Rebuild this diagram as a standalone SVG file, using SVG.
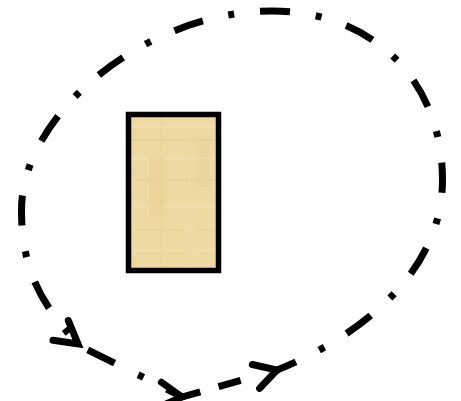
<svg xmlns="http://www.w3.org/2000/svg" xmlns:xlink="http://www.w3.org/1999/xlink" width="461" height="401" viewBox="0 0 461 401">
  <style>
    .loop { fill: none; stroke: #000; stroke-width: 7; stroke-dasharray: 30 26 6 26; stroke-linecap: butt; }
    .head { fill: none; stroke: #000; stroke-width: 7; stroke-linecap: round; stroke-linejoin: miter; }
    .node { stroke: #000; stroke-width: 5.5; }
  </style>
  <defs>
    <pattern id="papyrus" patternUnits="userSpaceOnUse" x="131" y="117" width="85" height="150">
      <rect width="85" height="150" fill="#EED9A3"/>
      <rect x="0" y="8" width="85" height="3" fill="#F1DFB0" opacity="0.8"/>
      <rect x="0" y="22" width="85" height="2" fill="#E6CF96" opacity="0.7"/>
      <rect x="0" y="40" width="85" height="3" fill="#F2E1B4" opacity="0.6"/>
      <rect x="0" y="62" width="85" height="2" fill="#E8D19A" opacity="0.6"/>
      <rect x="0" y="88" width="85" height="3" fill="#F1DFB0" opacity="0.6"/>
      <rect x="0" y="112" width="85" height="2" fill="#E7D098" opacity="0.6"/>
      <rect x="0" y="132" width="85" height="3" fill="#F2E0B2" opacity="0.6"/>
      <rect x="18" y="40" width="16" height="60" fill="#E9D197" opacity="0.5"/>
      <rect x="52" y="90" width="14" height="50" fill="#F0DBA8" opacity="0.6"/>
      <rect x="66" y="20" width="12" height="50" fill="#EAD39B" opacity="0.5"/>
      <rect x="30" y="0" width="1" height="150" fill="#E6CE94" opacity="0.5"/>
      <rect x="58" y="0" width="1" height="150" fill="#F3E3B8" opacity="0.5"/>
    </pattern>
    <path id="arrowhead" d="M-22,-12.5 L0,0 L-22,12.5"/>
  </defs>

  <g id="papyrus-node">
    <rect class="node" x="128.5" y="114.5" width="90" height="156" fill="url(#papyrus)"/>
  </g>

  <g id="connectors">
    <path class="loop" style="stroke-dashoffset:18" d="M272,11 C147,11 21.5,113 21.5,210 C21.5,280 49.1,310.5 78,345 C109.2,360.9 151.1,380.6 182,397"/>
    <path class="loop" style="stroke-dasharray:19 19 23 40" d="M182,397 L277,370"/>
    <path class="loop" style="stroke-dashoffset:12" d="M272,11 C372,11 442.5,80 442.5,180 C442.5,275 355.8,338.2 277,370"/>
    <use xlink:href="#arrowhead" class="head" transform="translate(78,344) rotate(38)"/>
    <use xlink:href="#arrowhead" class="head" transform="translate(182,397) rotate(6)"/>
    <use xlink:href="#arrowhead" class="head" transform="translate(277,370) rotate(-17)"/>
  </g>
</svg>
